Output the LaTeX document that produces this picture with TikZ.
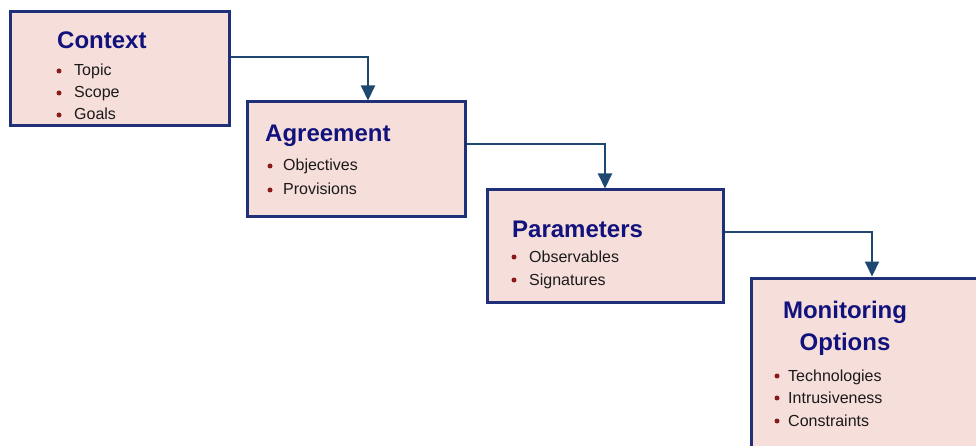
\documentclass[tikz,border=0pt]{standalone}
\usepackage{fontspec}
\setmainfont{Liberation Sans}
\usetikzlibrary{arrows.meta}
\definecolor{boxfill}{HTML}{F6DEDA}
\definecolor{boxline}{HTML}{1F2F78}
\definecolor{titlecol}{HTML}{12127C}
\definecolor{bulletcol}{HTML}{8B1A1A}
\definecolor{conncol}{HTML}{1E4870}
\definecolor{itemcol}{HTML}{1A1A1A}
\begin{document}
\begin{tikzpicture}[x=1pt,y=-1pt,
 box/.style={draw=boxline, line width=3pt, fill=boxfill, rectangle, inner sep=0pt},
 title/.style={anchor=base west, inner sep=0pt, text=titlecol, font=\fontsize{24}{28}\selectfont\bfseries},
 item/.style={anchor=base west, inner sep=0pt, text=itemcol, font=\fontsize{16}{19}\selectfont},
 dot/.style={circle, fill=bulletcol, inner sep=0pt, minimum size=5pt},
 conn/.style={draw=conncol, line width=2pt, -{Triangle[width=14pt,length=15pt]}}]
\useasboundingbox (0,0) rectangle (976,446);
\clip (0,0) rectangle (976,446);
% boxes
\node[box, minimum width=219pt, minimum height=114pt] (b1) at (119.5,69) {};
\node[box, minimum width=218pt, minimum height=115pt] (b2) at (356,159.5) {};
\node[box, minimum width=236pt, minimum height=112pt] (b3) at (605,246) {};
\node[box, minimum width=300pt, minimum height=220pt] (b4) at (901,388) {};
% connectors
\draw[conn] ([yshift=12pt]b1.east) -| ([xshift=12pt]b2.north);
\draw[conn] ([yshift=15.5pt]b2.east) -| (b3.north);
\draw[conn] ([yshift=14pt]b3.east) -| ([xshift=-29pt]b4.north);
% box 1
\node[title] (t1) at (57,49) {Context};
\node[dot] (d11) at (59,71) {};
\node[item] (i11) at (74,76) {Topic};
\node[dot] (d12) at (59,93) {};
\node[item] (i12) at (74,98) {Scope};
\node[dot] (d13) at (59,115) {};
\node[item] (i13) at (74,120) {Goals};
% box 2
\node[title] (t2) at (265,142) {Agreement};
\node[dot] (d21) at (270,166) {};
\node[item] (i21) at (283,171) {Objectives};
\node[dot] (d22) at (270,190) {};
\node[item] (i22) at (283,195) {Provisions};
% box 3
\node[title] (t3) at (512,237) {Parameters};
\node[dot] (d31) at (514,257) {};
\node[item] (i31) at (529,262) {Observables};
\node[dot] (d32) at (514,280) {};
\node[item] (i32) at (529,285) {Signatures};
% box 4
\node[title, anchor=base] (t4) at (845,318) {Monitoring};
\node[title, anchor=base] (t4b) at (845,350) {Options};
\node[dot] (d41) at (777,376) {};
\node[item] (i41) at (788,381) {Technologies};
\node[dot] (d42) at (777,398) {};
\node[item] (i42) at (788,403) {Intrusiveness};
\node[dot] (d43) at (777,421) {};
\node[item] (i43) at (788,426) {Constraints};
\end{tikzpicture}
\end{document}
